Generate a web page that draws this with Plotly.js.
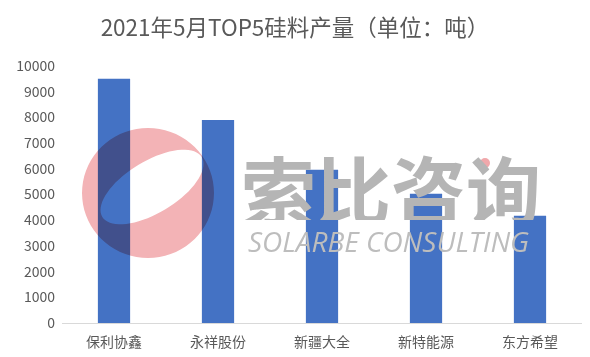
<!DOCTYPE html>
<html>
<head>
<meta charset="utf-8">
<script src="https://cdn.plot.ly/plotly-3.0.1.min.js"></script>
<style>html,body{margin:0;padding:0;background:#fff;}#chart{width:590px;height:357px;}</style>
</head>
<body>
<div id="chart"></div>
<script>
const companies = ["保利协鑫", "永祥股份", "新疆大全", "新特能源", "东方希望"];
const output = [9500, 7900, 5960, 5030, 4170];
const yTicks = [0, 1000, 2000, 3000, 4000, 5000, 6000, 7000, 8000, 9000, 10000];
const chartTitle = "2021年5月TOP5硅料产量（单位：吨）";
const watermarkCn = "索比咨询";
const watermarkEn = "SOLARBE CONSULTING";

const FONT = "'Noto Sans CJK SC', 'Noto Sans', sans-serif";
const W = 590, H = 357;
const M = {l: 62, r: 8, t: 66, b: 34};
const PW = W - M.l - M.r, PH = H - M.t - M.b;
const px2x = p => (p - M.l) / PW;
const px2y = p => (H - M.b - p) / PH;

// logo outline (pixel coords relative to anchor, y up)
function ellipsePath(cx, cy, rx, ry, rotDeg, reverse) {
  const n = 72, a = rotDeg * Math.PI / 180;
  let d = "";
  for (let i = 0; i <= n; i++) {
    const t = (reverse ? -1 : 1) * 2 * Math.PI * i / n;
    const x = rx * Math.cos(t), y = ry * Math.sin(t);
    const X = cx + x * Math.cos(a) - y * Math.sin(a);
    const Y = cy + x * Math.sin(a) + y * Math.cos(a);
    d += (i === 0 ? "M" : "L") + X.toFixed(1) + "," + Y.toFixed(1);
  }
  return d + " Z";
}
const logoPath = ellipsePath(0, 0, 66, 65, 0, false) + " " + ellipsePath(4, 6, 58, 26, 31, true);

const data = [{
  type: "bar",
  x: companies,
  y: output,
  marker: {color: "#4472C4"},
  hoverinfo: "x+y"
}];

const layout = {
  width: W, height: H,
  margin: M,
  paper_bgcolor: "#fff",
  plot_bgcolor: "#fff",
  font: {family: FONT, color: "#595959", size: 14},
  title: {
    text: chartTitle,
    font: {family: FONT, size: 22.5, color: "#595959"},
    x: 0.5, xref: "container", xanchor: "center",
    y: 1 - 28 / H, yref: "container", yanchor: "middle"
  },
  bargap: 0.69,
  showlegend: false,
  xaxis: {
    type: "category",
    showline: true, linecolor: "#d9d9d9", linewidth: 1,
    ticks: "", showgrid: false, zeroline: false,
    tickfont: {family: FONT, size: 14, color: "#595959"},
    ticklabelstandoff: 6
  },
  yaxis: {
    range: [0, 10000],
    tickvals: yTicks,
    ticktext: yTicks.map(String),
    showgrid: false, zeroline: false, showline: false,
    ticks: "",
    tickfont: {family: FONT, size: 14, color: "#595959"},
    ticklabelstandoff: 6
  },
  shapes: [
    {
      type: "path", layer: "above",
      xref: "paper", yref: "paper",
      xsizemode: "pixel", ysizemode: "pixel",
      xanchor: px2x(148), yanchor: px2y(193),
      path: logoPath,
      fillrule: "evenodd",
      fillcolor: "#f3b3b6",
      line: {width: 0}
    },
    {
      type: "circle", layer: "above",
      xref: "paper", yref: "paper",
      xsizemode: "pixel", ysizemode: "pixel",
      xanchor: px2x(485), yanchor: px2y(163),
      x0: -5, x1: 5, y0: -5, y1: 5,
      fillcolor: "#f0a8ab",
      line: {width: 0}
    }
  ],
  annotations: [
    {
      text: "<b>" + watermarkCn + "</b>",
      xref: "paper", yref: "paper",
      x: px2x(391), y: px2y(187),
      xanchor: "center", yanchor: "middle",
      showarrow: false,
      height: 66,
      font: {family: FONT, size: 75, color: "#b5b5b5"}
    },
    {
      text: "<i>" + watermarkEn + "</i>",
      xref: "paper", yref: "paper",
      x: px2x(388), y: px2y(241),
      xanchor: "center", yanchor: "middle",
      showarrow: false,
      height: 26,
      font: {family: "'Open Sans', 'DejaVu Sans', sans-serif", size: 28, color: "#bdbdbd"}
    }
  ]
};

Plotly.newPlot("chart", data, layout, {staticPlot: true, displayModeBar: false}).then(function (gd) {
  // watermark blends like a multiply overlay in the reference
  gd.querySelectorAll(".shapelayer path").forEach(function (p) {
    p.style.mixBlendMode = "multiply";
  });
  const svgs = gd.querySelectorAll("svg.main-svg");
  if (svgs.length > 1) svgs[svgs.length - 1].style.mixBlendMode = "multiply";
});
</script>
</body>
</html>
